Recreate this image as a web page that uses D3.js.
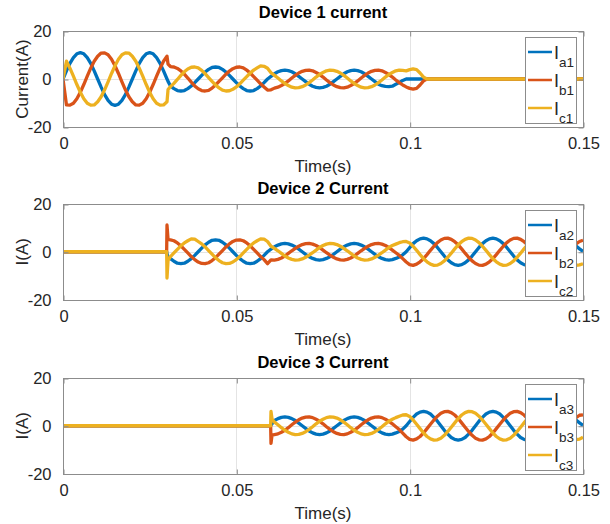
<!DOCTYPE html>
<html>
<head>
<meta charset="utf-8">
<script src="https://cdn.jsdelivr.net/npm/d3@7"></script>
<style>
  html, body { margin: 0; padding: 0; background: #ffffff; }
  svg { display: block; }
</style>
</head>
<body>
<svg id="chart" width="610" height="524"></svg>
<script>
// ---- sample instants (ms) and phase currents (A) for each device ----
const timeMs1 = [0,1,2,3,4,5,6,7,8,9,10,11,12,13,14,15,16,17,18,19,20,21,22,23,24,25,26,27,28,29,30,30.3,
  31,32,33,34,35,36,37,38,39,40,41,42,43,44,45,46,47,48,49,50,51,52,53,54,55,56,57,58,59,
  60,61,62,63,64,65,66,67,68,69,70,71,72,73,74,75,76,77,78,79,80,81,82,83,84,85,86,87,88,89,
  90,91,92,93,94,95,96,97,98,99,100,101,102,103,104,105,150];

const ia1 = [0, 3.4, 6.5, 8.9, 10.5, 11, 10.5, 8.9, 6.5, 3.4,
  0, -3.4, -6.5, -8.9, -10.5, -11, -10.5, -8.9, -6.5, -3.4,
  0, 3.4, 6.5, 8.9, 10.5, 11, 10.5, 8.9, 6.5, 3.4,
  0, -1.0,
  -2.9, -4.0, -4.8, -5.0, -4.8, -4.0, -2.9, -1.5, 0,
  1.5, 2.9, 4.0, 4.8, 5.0, 4.8, 4.0, 2.9, 1.5, 0,
  -1.5, -2.9, -4.0, -4.8, -5.0, -4.8, -4.0, -2.9, -1.5, 0,
  1.1, 2.2, 3.0, 3.5, 3.7, 3.5, 3.0, 2.2, 1.1, 0,
  -1.1, -2.2, -3.0, -3.5, -3.7, -3.5, -3.0, -2.2, -1.1, 0,
  1.1, 2.2, 3.0, 3.5, 3.7, 3.5, 3.0, 2.2, 1.1, 0,
  -1.1, -2.2, -2.8, -3.1, -3.2, -3.0, -2.2, -1.5, -0.6, 0,
  0, 0, 0, 0, 0, 0, 0];

const ib1 = [0, -10.8, -10.9, -10.1, -8.2, -5.5, -2.3, 1.2, 4.5, 7.4,
  9.5, 10.8, 10.9, 10.1, 8.2, 5.5, 2.3, -1.2, -4.5, -7.4,
  -9.5, -10.8, -10.9, -10.1, -8.2, -5.5, -2.3, 1.2, 4.5, 7.4,
  9.5, 6.2,
  5.2, 5.0, 4.4, 3.4, 2.0, 0.4, -1.3, -2.9, -4.1,
  -4.8, -5.0, -4.7, -3.8, -2.5, -1.0, 0.5, 2.0, 3.3, 4.3,
  4.9, 5.0, 4.6, 3.7, 2.5, 1.0, -0.5, -2.0, -3.3, -4.6,
  -4.5, -3.8, -3.4, -2.7, -1.9, -0.8, 0.4, 1.5, 2.5, 3.2,
  3.6, 3.7, 3.4, 2.7, 1.9, 0.8, -0.4, -1.5, -2.5, -3.2,
  -3.6, -3.7, -3.4, -2.7, -1.9, -0.8, 0.4, 1.5, 2.5, 3.2,
  3.6, 3.7, 3.4, 2.7, 1.9, 0.8, -0.4, -1.5, -2.5, -3.3,
  -3.9, -4.2, -3.9, -2.5, -0.8, 0, 0];

const ic1 = [0, 7.4, 4.5, 1.2, -2.3, -5.5, -8.2, -10.1, -10.9, -10.8,
  -9.5, -7.4, -4.5, -1.2, 2.3, 5.5, 8.2, 10.1, 10.9, 10.8,
  9.5, 7.4, 4.5, 1.2, -2.3, -5.5, -8.2, -10.1, -10.9, -10.8,
  -9.5, -4.4,
  -3.2, -1.8, -0.2, 1.5, 3.0, 4.2, 4.9, 5.0, 4.6,
  3.6, 2.2, 0.6, -1.0, -2.5, -3.7, -4.6, -5.0, -4.9, -4.3,
  -3.3, -2.0, -0.5, 1.0, 2.5, 3.7, 4.6, 5.5, 5.3, 4.5,
  2.6, 1.5, 0.4, -0.8, -1.9, -2.7, -3.4, -3.7, -3.6, -3.2,
  -2.5, -1.5, -0.4, 0.8, 1.9, 2.7, 3.4, 3.7, 3.6, 3.2,
  2.5, 1.5, 0.4, -0.8, -1.9, -2.7, -3.4, -3.7, -3.6, -3.2,
  -2.5, -1.5, -0.4, 0.8, 1.9, 2.7, 3.4, 3.7, 3.6, 3.4,
  3.9, 4.2, 3.9, 2.5, 0.8, 0, 0];

const timeMs2 = [0, 29.9, 30, 30.3,
  31,32,33,34,35,36,37,38,39,40,41,42,43,44,45,46,47,48,49,50,51,52,53,54,55,56,57,58,59,
  60,61,62,63,64,65,66,67,68,69,70,71,72,73,74,75,76,77,78,79,80,81,82,83,84,85,86,87,88,89,
  90,91,92,93,94,95,96,97,98,99,100,101,102,103,104,105,106,107,108,109,110,111,112,113,114,
  115,116,117,118,119,120,121,122,123,124,125,126,127,128,129,130,131,132,133,134,135,136,137,
  138,139,140,141,142,143,144,145,146,147,148,149,150];

const ia2 = [0, 0, -0.8, -2.0,
  -2.9, -4.0, -4.8, -5.0, -4.8, -4.0, -2.9, -1.5, 0,
  1.5, 2.9, 4.0, 4.8, 5.0, 4.8, 4.0, 2.9, 1.5, 0,
  -1.5, -2.9, -4.0, -4.8, -5.0, -4.8, -4.0, -2.9, -1.5, 0,
  1.1, 2.1, 2.8, 3.3, 3.5, 3.3, 2.8, 2.1, 1.1, 0,
  -1.1, -2.1, -2.8, -3.3, -3.5, -3.3, -2.8, -2.1, -1.1, 0,
  1.1, 2.1, 2.8, 3.3, 3.5, 3.3, 2.8, 2.1, 1.1, 0,
  -1.1, -2.1, -2.8, -3.3, -3.5, -3.3, -2.8, -2.2, -1.3, 0,
  1.7, 3.4, 4.6, 5.4, 5.7, 5.4, 4.6, 3.4, 1.8, 0,
  -1.8, -3.4, -4.6, -5.4, -5.7, -5.4, -4.6, -3.4, -1.8, 0,
  1.8, 3.4, 4.6, 5.4, 5.7, 5.4, 4.6, 3.4, 1.8, 0,
  -1.8, -3.4, -4.6, -5.4, -5.7, -5.4, -4.6, -3.4, -1.8, 0,
  1.8, 3.4, 4.6, 5.4, 5.7, 5.4, 4.6, 3.4, 2.4, 1.2,
  0.2];

const ib2 = [0, 0, 11.2, 5.2,
  5.0, 4.6, 3.7, 2.5, 1.0, -0.5, -2.0, -3.3, -4.3,
  -4.9, -5.0, -4.6, -3.7, -2.5, -1.0, 0.5, 2.0, 3.3, 4.3,
  4.9, 5.0, 4.6, 3.7, 2.5, 1.0, -0.5, -2.0, -3.3, -5.0,
  -3.4, -3.5, -3.2, -2.6, -1.8, -0.7, 0.4, 1.4, 2.3, 3.0,
  3.4, 3.5, 3.2, 2.6, 1.8, 0.7, -0.4, -1.4, -2.3, -3.0,
  -3.4, -3.5, -3.2, -2.6, -1.8, -0.7, 0.4, 1.4, 2.3, 3.0,
  3.4, 3.5, 3.2, 2.6, 1.8, 0.7, -0.4, -1.5, -2.9, -4.3,
  -5.4, -5.7, -5.2, -4.2, -2.9, -1.2, 0.6, 2.3, 3.8, 4.9,
  5.6, 5.7, 5.2, 4.2, 2.9, 1.2, -0.6, -2.3, -3.8, -4.9,
  -5.6, -5.7, -5.2, -4.2, -2.9, -1.2, 0.6, 2.3, 3.8, 4.9,
  5.6, 5.7, 5.2, 4.2, 2.9, 1.2, -0.6, -2.3, -3.8, -4.9,
  -5.6, -5.7, -5.2, -4.2, -2.9, -1.2, 0.6, 2.3, 3.3, 4.3,
  4.8];

const ic2 = [0, 0, -11.0, -3.6,
  -2.0, -0.5, 1.0, 2.5, 3.7, 4.6, 5.4, 5.3, 4.3,
  3.3, 2.0, 0.5, -1.0, -2.5, -3.7, -4.6, -5.0, -4.9, -4.3,
  -3.3, -2.0, -0.5, 1.0, 2.5, 3.7, 4.6, 5.4, 5.3, 4.3,
  2.3, 1.4, 0.4, -0.7, -1.8, -2.6, -3.2, -3.5, -3.4, -3.0,
  -2.3, -1.4, -0.4, 0.7, 1.8, 2.6, 3.2, 3.5, 3.4, 3.0,
  2.3, 1.4, 0.4, -0.7, -1.8, -2.6, -3.2, -3.5, -3.4, -3.0,
  -2.3, -1.4, -0.4, 0.7, 1.8, 2.6, 3.2, 3.8, 4.2, 4.3,
  3.7, 2.3, 0.6, -1.2, -2.9, -4.2, -5.2, -5.7, -5.6, -4.9,
  -3.8, -2.3, -0.6, 1.2, 2.9, 4.2, 5.2, 5.7, 5.6, 4.9,
  3.8, 2.3, 0.6, -1.2, -2.9, -4.2, -5.2, -5.7, -5.6, -4.9,
  -3.8, -2.3, -0.6, 1.2, 2.9, 4.2, 5.2, 5.7, 5.6, 4.9,
  3.8, 2.3, 0.6, -1.2, -2.9, -4.2, -5.2, -5.7, -5.7, -5.5,
  -5.0];

const timeMs3 = [0, 59.9, 60, 60.3,
  61,62,63,64,65,66,67,68,69,70,71,72,73,74,75,76,77,78,79,80,81,82,83,84,85,86,87,88,89,
  90,91,92,93,94,95,96,97,98,99,100,101,102,103,104,105,106,107,108,109,110,111,112,113,114,
  115,116,117,118,119,120,121,122,123,124,125,126,127,128,129,130,131,132,133,134,135,136,137,
  138,139,140,141,142,143,144,145,146,147,148,149,150];

const ia3 = [0, 0, 0.3, 0.8,
  2.2, 3.0, 3.5, 3.7, 3.5, 3.0, 2.2, 1.1, 0,
  -1.1, -2.2, -3.0, -3.5, -3.7, -3.5, -3.0, -2.2, -1.1, 0,
  1.1, 2.2, 3.0, 3.5, 3.7, 3.5, 3.0, 2.2, 1.1, 0,
  -1.1, -2.2, -3.0, -3.5, -3.7, -3.5, -3.0, -2.4, -1.4, 0,
  1.8, 3.5, 4.9, 5.7, 6.0, 5.7, 4.9, 3.5, 1.9, 0,
  -1.9, -3.5, -4.9, -5.7, -6.0, -5.7, -4.9, -3.5, -1.9, 0,
  1.9, 3.5, 4.9, 5.7, 6.0, 5.7, 4.9, 3.5, 1.9, 0,
  -1.9, -3.5, -4.9, -5.7, -6.0, -5.7, -4.9, -3.5, -1.9, 0,
  1.9, 3.5, 4.9, 5.7, 6.0, 5.7, 4.9, 3.5, 2.4, 1.2,
  0.2];

const ib3 = [0, 0, -7.4, -3.9,
  -3.7, -3.4, -2.7, -1.9, -0.8, 0.4, 1.5, 2.5, 3.2,
  3.6, 3.7, 3.4, 2.7, 1.9, 0.8, -0.4, -1.5, -2.5, -3.2,
  -3.6, -3.7, -3.4, -2.7, -1.9, -0.8, 0.4, 1.5, 2.5, 3.2,
  3.6, 3.7, 3.4, 2.7, 1.9, 0.8, -0.4, -1.6, -3.1, -4.6,
  -5.7, -6.0, -5.5, -4.5, -3.0, -1.2, 0.6, 2.4, 4.0, 5.2,
  5.9, 6.0, 5.5, 4.5, 3.0, 1.2, -0.6, -2.4, -4.0, -5.2,
  -5.9, -6.0, -5.5, -4.5, -3.0, -1.2, 0.6, 2.4, 4.0, 5.2,
  5.9, 6.0, 5.5, 4.5, 3.0, 1.2, -0.6, -2.4, -4.0, -5.2,
  -5.9, -6.0, -5.5, -4.5, -3.0, -1.2, 0.6, 2.4, 3.4, 4.4,
  4.6];

const ic3 = [0, 0, 6.0, 2.8,
  1.5, 0.4, -0.8, -1.9, -2.7, -3.4, -3.7, -3.6, -3.2,
  -2.5, -1.5, -0.4, 0.8, 1.9, 2.7, 3.4, 3.7, 3.6, 3.2,
  2.5, 1.5, 0.4, -0.8, -1.9, -2.7, -3.4, -3.7, -3.6, -3.2,
  -2.5, -1.5, -0.4, 0.8, 1.9, 2.7, 3.4, 4.0, 4.5, 4.6,
  3.9, 2.4, 0.6, -1.2, -3.0, -4.5, -5.5, -6.0, -5.9, -5.2,
  -4.0, -2.4, -0.6, 1.2, 3.0, 4.5, 5.5, 6.0, 5.9, 5.2,
  4.0, 2.4, 0.6, -1.2, -3.0, -4.5, -5.5, -6.0, -5.9, -5.2,
  -4.0, -2.4, -0.6, 1.2, 3.0, 4.5, 5.5, 6.0, 5.9, 5.2,
  4.0, 2.4, 0.6, -1.2, -3.0, -4.5, -5.5, -5.9, -5.8, -5.6,
  -4.8];

// ---- labels ----
const titles = ["Device 1 current", "Device 2 Current", "Device 3 Current"];
const yLabels = ["Current(A)", "I(A)", "I(A)"];
const xLabel = "Time(s)";
const xTicks = [0, 0.05, 0.1, 0.15];
const xTickLabels = ["0", "0.05", "0.1", "0.15"];
const yTicks = [-20, 0, 20];
const yTickLabels = ["-20", "0", "20"];
const phaseNames = ["a", "b", "c"];
const phaseColors = ["#0072BD", "#D95319", "#EDB120"];

const panels = [
  { time: timeMs1, series: [ia1, ib1, ic1], device: "1" },
  { time: timeMs2, series: [ia2, ib2, ic2], device: "2" },
  { time: timeMs3, series: [ia3, ib3, ic3], device: "3" }
];

// ---- layout ----
const FONT = "'Liberation Sans', Arial, Helvetica, sans-serif";
const TEXT = "#262626";
const AXIS = "#8c8c8c";
const GRID = "#e4e4e4";
const left = 63, right = 583;
const frames = [[31, 127], [204, 299.5], [378, 473.5]];
const titleGap = [13, 10, 10];

const svg = d3.select("#chart");
const defs = svg.append("defs");

panels.forEach((p, i) => {
  const [top, bottom] = frames[i];
  const x = d3.scaleLinear().domain([0, 0.15]).range([left, right]);
  const y = d3.scaleLinear().domain([-20, 20]).range([bottom, top]);
  const g = svg.append("g");

  const clipId = "clip" + i;
  defs.append("clipPath").attr("id", clipId)
    .append("rect").attr("x", left).attr("y", top)
    .attr("width", right - left + 1).attr("height", bottom - top);

  // grid
  g.append("g").selectAll("line.vg").data(xTicks.slice(1, -1)).join("line")
    .attr("x1", d => Math.round(x(d)) + 0.5).attr("x2", d => Math.round(x(d)) + 0.5)
    .attr("y1", top).attr("y2", bottom)
    .attr("stroke", GRID).attr("stroke-width", 1);
  g.append("line")
    .attr("x1", left).attr("x2", right)
    .attr("y1", Math.round(y(0)) + 0.5).attr("y2", Math.round(y(0)) + 0.5)
    .attr("stroke", GRID).attr("stroke-width", 1);

  // traces
  const line = d3.line()
    .x((d, k) => x(p.time[k] / 1000))
    .y(d => y(d));
  const traces = g.append("g").attr("clip-path", `url(#${clipId})`);
  p.series.forEach((vals, s) => {
    traces.append("path")
      .attr("d", line(vals))
      .attr("fill", "none")
      .attr("stroke", phaseColors[s])
      .attr("stroke-width", 3.3)
      .attr("stroke-linejoin", "round")
      .attr("stroke-linecap", "butt");
  });

  // box and ticks
  g.append("rect")
    .attr("x", left + 0.5).attr("y", Math.round(top) + 0.5)
    .attr("width", right - left).attr("height", Math.round(bottom) - Math.round(top))
    .attr("fill", "none").attr("stroke", AXIS).attr("stroke-width", 1);

  const xAxisB = d3.axisBottom(x).tickValues(xTicks).tickSize(-5).tickFormat((d, k) => xTickLabels[k]).tickPadding(10);
  const xAxisT = d3.axisTop(x).tickValues(xTicks).tickSize(-5).tickFormat("");
  const yAxisL = d3.axisLeft(y).tickValues(yTicks).tickSize(-5).tickFormat((d, k) => yTickLabels[k]).tickPadding(12);
  const yAxisR = d3.axisRight(y).tickValues(yTicks).tickSize(-5).tickFormat("");

  const styleAxis = sel => {
    sel.select(".domain").remove();
    sel.selectAll(".tick line").attr("stroke", AXIS);
    sel.selectAll(".tick text").attr("fill", TEXT)
      .style("font-family", FONT).style("font-size", "16.5px");
  };
  g.append("g").attr("transform", `translate(0.5,${Math.round(bottom) + 0.5})`).call(xAxisB).call(styleAxis);
  g.append("g").attr("transform", `translate(0.5,${Math.round(top) + 0.5})`).call(xAxisT).call(styleAxis);
  g.append("g").attr("transform", `translate(${left + 0.5},0.5)`).call(yAxisL).call(styleAxis);
  g.append("g").attr("transform", `translate(${right + 0.5},0.5)`).call(yAxisR).call(styleAxis);

  // titles and axis labels
  g.append("text")
    .attr("x", (left + right) / 2).attr("y", top - titleGap[i])
    .attr("text-anchor", "middle")
    .style("font-family", FONT).style("font-size", "16.5px").style("font-weight", "bold")
    .attr("fill", "#000").text(titles[i]);
  g.append("text")
    .attr("x", (left + right) / 2).attr("y", bottom + 45)
    .attr("text-anchor", "middle")
    .style("font-family", FONT).style("font-size", "17px")
    .attr("fill", TEXT).text(xLabel);
  g.append("text")
    .attr("transform", `translate(28,${(top + bottom) / 2}) rotate(-90)`)
    .attr("text-anchor", "middle")
    .style("font-family", FONT).style("font-size", "17px")
    .attr("fill", TEXT).text(yLabels[i]);

  // legend
  const lx = 525, ly = top + 6, lw = 51, lh = 86;
  const leg = g.append("g");
  leg.append("rect")
    .attr("x", lx + 0.5).attr("y", Math.round(ly) + 0.5)
    .attr("width", lw).attr("height", lh)
    .attr("fill", "#ffffff").attr("stroke", AXIS).attr("stroke-width", 1);
  phaseNames.forEach((ph, s) => {
    const ey = ly + 15 + s * 28;
    leg.append("line")
      .attr("x1", lx + 3).attr("x2", lx + 27)
      .attr("y1", ey).attr("y2", ey)
      .attr("stroke", phaseColors[s]).attr("stroke-width", 2.5);
    const t = leg.append("text")
      .attr("x", lx + 29).attr("y", ey + 7)
      .style("font-family", FONT).style("font-size", "18px")
      .attr("fill", TEXT);
    t.append("tspan").text("I");
    t.append("tspan").attr("dy", 8).style("font-size", "13.5px").text(ph + p.device);
  });
});
</script>
</body>
</html>
